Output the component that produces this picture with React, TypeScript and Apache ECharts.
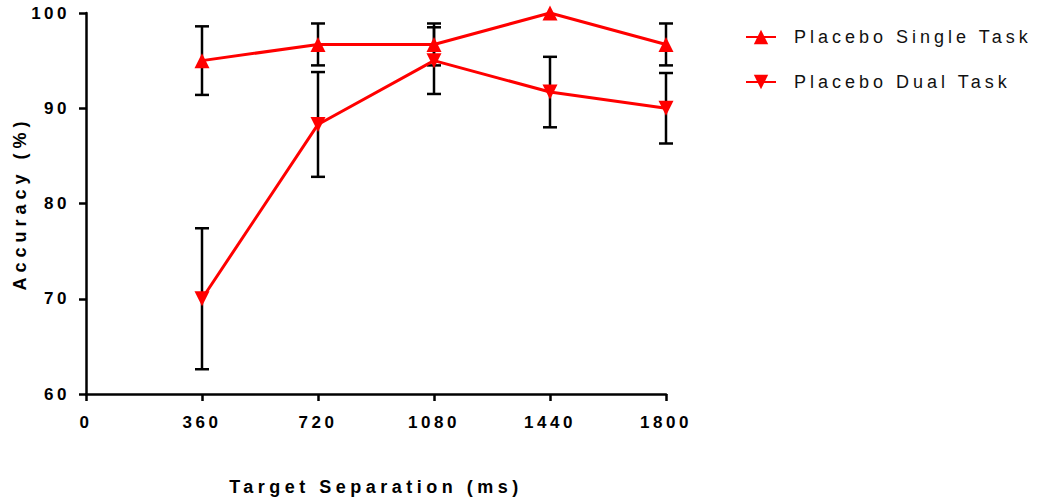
import React, { useEffect, useRef } from "react";
import * as echarts from "echarts";

const separations = [360, 720, 1080, 1440, 1800];
const xTicks = [0, 360, 720, 1080, 1440, 1800];
const yTicks = [60, 70, 80, 90, 100];
const singleMean = [95, 96.7, 96.7, 100, 96.7];
const singleErr = [3.6, 2.2, 2.2, 0, 2.2];
const dualMean = [70, 88.3, 95, 91.7, 90];
const dualErr = [7.4, 5.5, 3.5, 3.7, 3.7];
const seriesNames = ["Placebo Single Task", "Placebo Dual Task"];
const xTitle = "Target Separation (ms)";
const yTitle = "Accuracy (%)";

const RED = "#ff0000";
const FONT = "Liberation Sans";

function errData(means: number[], errs: number[]) {
  return separations
    .map((x, i) => [x, means[i] - errs[i], means[i] + errs[i]])
    .filter((_, i) => errs[i] > 0);
}

const renderErr = (params: any, api: any) => {
  const x = api.value(0);
  const lo = api.coord([x, api.value(1)]);
  const hi = api.coord([x, api.value(2)]);
  const cap = 7;
  const style = { stroke: "#000", lineWidth: 2.5 };
  return {
    type: "group",
    children: [
      { type: "line", shape: { x1: lo[0], y1: lo[1], x2: hi[0], y2: hi[1] }, style },
      { type: "line", shape: { x1: lo[0] - cap, y1: lo[1], x2: lo[0] + cap, y2: lo[1] }, style },
      { type: "line", shape: { x1: hi[0] - cap, y1: hi[1], x2: hi[0] + cap, y2: hi[1] }, style },
    ],
  };
};

export default function App() {
  const ref = useRef<HTMLDivElement>(null);
  useEffect(() => {
    document.body.style.margin = "0";
    const el = ref.current!;
    const chart = echarts.init(el, null, { renderer: "svg" });
    const axisLabel = { color: "#000", fontFamily: FONT, fontWeight: "bold" as const, fontSize: 17 };
    chart.setOption({
      animation: false,
      backgroundColor: "#fff",
      grid: { left: 86, top: 13, width: 580, height: 381, containLabel: false, outerBoundsMode: "none" },
      legend: {
        orient: "vertical",
        left: 740,
        top: 23,
        itemGap: 27,
        itemWidth: 30,
        itemHeight: 18,
        data: seriesNames,
        textStyle: { fontFamily: FONT, fontSize: 18, color: "#111", padding: [0, 0, 0, 13] },
      },
      xAxis: {
        type: "value",
        min: 0,
        max: 1800,
        interval: 360,
        name: xTitle,
        nameLocation: "middle",
        nameGap: 84,
        nameTextStyle: { fontFamily: FONT, fontWeight: "bold", fontSize: 18, color: "#000" },
        axisLine: { onZero: false, lineStyle: { color: "#000", width: 2.5 } },
        axisTick: { show: true, length: 7, lineStyle: { color: "#000", width: 2.5 } },
        axisLabel: { ...axisLabel, margin: 20, formatter: (v: number) => (xTicks.includes(v) ? String(v) : "") },
        splitLine: { show: false },
      },
      yAxis: {
        type: "value",
        min: 60,
        max: 100,
        interval: 10,
        name: yTitle,
        nameLocation: "middle",
        nameGap: 57,
        nameRotate: 90,
        nameTextStyle: { fontFamily: FONT, fontWeight: "bold", fontSize: 18, color: "#000" },
        axisLine: { show: true, onZero: false, lineStyle: { color: "#000", width: 2.5 } },
        axisTick: { show: true, length: 7, lineStyle: { color: "#000", width: 2.5 } },
        axisLabel: { ...axisLabel, margin: 16, formatter: (v: number) => (yTicks.includes(v) ? String(v) : "") },
        splitLine: { show: false },
      },
      series: [
        {
          type: "custom",
          name: "err-single",
          renderItem: renderErr,
          data: errData(singleMean, singleErr),
          encode: { x: 0, y: [1, 2] },
          clip: false,
          z: 1,
          silent: true,
        },
        {
          type: "custom",
          name: "err-dual",
          renderItem: renderErr,
          data: errData(dualMean, dualErr),
          encode: { x: 0, y: [1, 2] },
          clip: false,
          z: 1,
          silent: true,
        },
        {
          type: "line",
          name: seriesNames[0],
          data: separations.map((x, i) => [x, singleMean[i]]),
          symbol: "triangle",
          symbolSize: 15,
          color: RED,
          lineStyle: { color: RED, width: 3 },
          itemStyle: { color: RED },
          clip: false,
          z: 3,
        },
        {
          type: "line",
          name: seriesNames[1],
          data: separations.map((x, i) => [x, dualMean[i]]),
          symbol: "triangle",
          symbolRotate: 180,
          symbolSize: 15,
          color: RED,
          lineStyle: { color: RED, width: 3 },
          itemStyle: { color: RED },
          clip: false,
          z: 3,
        },
      ],
    });

    const applySpacing = () => {
      el.querySelectorAll("svg text").forEach((t) => {
        const s = (t.textContent || "").trim();
        let sp = 3.5;
        if (seriesNames.includes(s)) sp = 4;
        else if (s === xTitle) sp = 4.5;
        else if (s === yTitle) sp = 5;
        t.setAttribute("letter-spacing", String(sp));
      });
    };
    applySpacing();
    chart.on("finished", applySpacing);
    const raf = requestAnimationFrame(applySpacing);
    const tm = setTimeout(applySpacing, 50);
    return () => {
      cancelAnimationFrame(raf);
      clearTimeout(tm);
      chart.dispose();
    };
  }, []);
  return <div ref={ref} style={{ width: 1046, height: 502 }} />;
}
